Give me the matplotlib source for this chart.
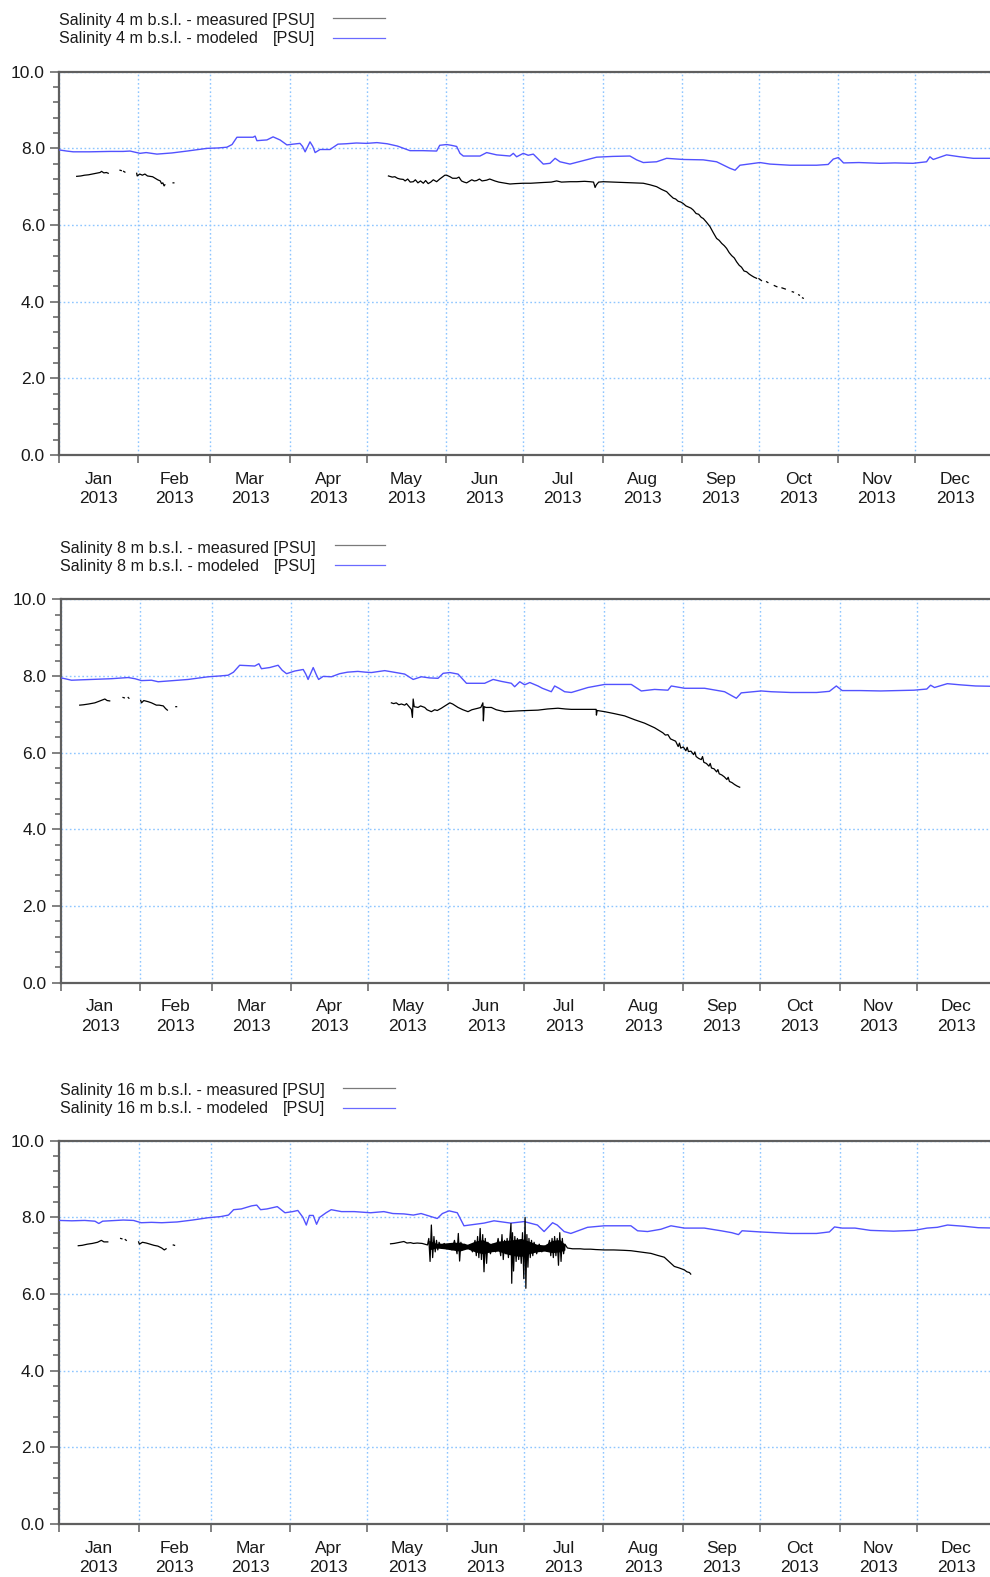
import numpy as np
import matplotlib
matplotlib.use("Agg")
import matplotlib.pyplot as plt
from matplotlib.lines import Line2D
from matplotlib.ticker import MultipleLocator, FixedLocator, NullFormatter, FormatStrFormatter

plt.rcParams['font.family'] = ['Liberation Sans', 'DejaVu Sans']

nan = np.nan

# ---- calendar axis (day of year 2013) ----
month_starts = [0, 31, 59, 90, 120, 151, 181, 212, 243, 273, 304, 334, 365]
month_names = ["Jan", "Feb", "Mar", "Apr", "May", "Jun",
               "Jul", "Aug", "Sep", "Oct", "Nov", "Dec"]
year_label = "2013"

# ---- salinity 4 m below sea level ----
day_meas_4m = [6.9, 8.5, 10, 11.5, 13, 14.5, 16, 16.6, 17.5, 18.5, 19.2, nan,
               23.8, 24.3, nan, 25.2, 25.7, nan,
               30.3, 30.5, 31.5, 32.5, 33.5, 34.5, 35.5, 36.5, 37.5, 38.5, 39.5, 40, 40.5, 41, 41.3, nan,
               44.5, 44.8, nan,
               128.5, 130, 131, 132, 133, 134.3, 135, 136, 137, 138.2, 139, 140, 141, 142.1, 143, 144,
               145, 146, 147.3, 148.5, 149.5, 150.5, 151.2, 152.5, 153.5, 155.1, 156, 157, 158, 159,
               160, 161, 162, 162.9, 164, 165, 166.8, 168, 170, 171.5, 173.3, 175.9, 178, 181, 184,
               186.3, 189, 192, 194.1, 196, 199.3, 202, 205, 207.1, 208.5, 209.1, 209.6, 210.5, 212.3,
               216, 220.1, 224, 227.9, 230.5, 233.1, 235, 237, 238.3, 239.6, 240.5, 241.5, 242.5, 243.5,
               244.5, 245.5, 246.5, 247.4, 248.5, 249.5, 250.5, 251.3, 252.6, 253.9, 255.2, 256.5,
               257.5, 258.5, 259.5, 260.4, 261.4, 262.4, 263.4, 264.3, 265.3, 266.2, 267.2, 268.2,
               269.2, 270.1, 271.1, 272.1, nan,
               273, 274, nan, 276, 276.5, nan, 279, 280, nan, 282, 283.3, nan, 286, 286.5, nan,
               288.5, 288.8, nan, 290.0, 290.3]
sal_meas_4m = [7.27, 7.28, 7.30, 7.31, 7.33, 7.35, 7.37, 7.40, 7.36, 7.37, 7.35, nan,
               7.43, 7.42, nan, 7.40, 7.38, nan,
               7.35, 7.28, 7.33, 7.30, 7.33, 7.28, 7.27, 7.26, 7.22, 7.18, 7.15, 7.08, 7.10, 7.02, 7.05, nan,
               7.10, 7.10, nan,
               7.28, 7.25, 7.26, 7.22, 7.20, 7.19, 7.15, 7.20, 7.12, 7.13, 7.18, 7.10, 7.15, 7.09, 7.16, 7.08,
               7.12, 7.18, 7.13, 7.20, 7.25, 7.30, 7.30, 7.26, 7.22, 7.22, 7.25, 7.15, 7.12, 7.10,
               7.14, 7.18, 7.15, 7.16, 7.20, 7.15, 7.17, 7.20, 7.15, 7.12, 7.10, 7.07, 7.08, 7.09, 7.09,
               7.10, 7.11, 7.12, 7.15, 7.12, 7.13, 7.13, 7.14, 7.13, 7.12, 6.98, 7.05, 7.12, 7.13,
               7.12, 7.11, 7.10, 7.09, 7.05, 7.00, 6.93, 6.87, 6.78, 6.70, 6.68, 6.62, 6.60, 6.56,
               6.50, 6.47, 6.44, 6.39, 6.30, 6.28, 6.20, 6.17, 6.07, 5.96, 5.80, 5.65,
               5.60, 5.52, 5.46, 5.39, 5.28, 5.20, 5.14, 5.04, 4.95, 4.90, 4.80, 4.78,
               4.72, 4.68, 4.64, 4.61, nan,
               4.60, 4.55, nan, 4.52, 4.50, nan, 4.42, 4.39, nan, 4.36, 4.33, nan, 4.26, 4.25, nan,
               4.18, 4.17, nan, 4.10, 4.09]
day_mod_4m = [0, 3, 5.5, 12, 20, 25, 27.7, 31.6, 34, 38.2, 44, 50, 57.7, 62, 65.5, 67.5, 69.4, 73,
              75.7, 76.5, 77.2, 79, 81.1, 83.5, 86.2, 88.9, 91.3, 94, 95, 96, 97.9, 99, 99.9, 101.8,
              105.7, 108.8, 112, 116, 120, 124, 128, 132, 136.9, 142, 147.3, 148.5, 151.2, 153, 155.1,
              156.4, 157.7, 164.2, 166.8, 170.7, 175.9, 177.2, 178.5, 181.1, 183, 185, 188.9, 191.5,
              193.5, 195.4, 199.3, 204.5, 209.7, 216, 222.7, 225.3, 227.9, 233.1, 237, 243.5, 251.3,
              256.5, 261.7, 263.7, 265.6, 273.4, 277.3, 285.1, 295.5, 300, 302, 304, 306, 312, 320.2,
              326, 333.1, 338.4, 339.7, 341, 346.2, 351.4, 356.6, 363.1, 365]
sal_mod_4m = [7.96, 7.93, 7.91, 7.91, 7.92, 7.92, 7.93, 7.87, 7.89, 7.85, 7.88, 7.93, 8.00, 8.01,
              8.03, 8.10, 8.29, 8.29, 8.29, 8.32, 8.20, 8.21, 8.22, 8.30, 8.22, 8.09, 8.11, 8.13, 8.05,
              7.91, 8.17, 8.05, 7.89, 7.97, 7.97, 8.11, 8.12, 8.14, 8.13, 8.15, 8.12, 8.06, 7.94, 7.94,
              7.93, 8.08, 8.10, 8.08, 8.05, 7.87, 7.80, 7.80, 7.89, 7.83, 7.80, 7.87, 7.78, 7.87, 7.82,
              7.85, 7.59, 7.61, 7.74, 7.65, 7.59, 7.68, 7.77, 7.79, 7.80, 7.70, 7.63, 7.65, 7.74, 7.71,
              7.70, 7.65, 7.48, 7.43, 7.56, 7.63, 7.59, 7.56, 7.56, 7.58, 7.72, 7.76, 7.62, 7.63, 7.61,
              7.62, 7.61, 7.65, 7.78, 7.71, 7.83, 7.78, 7.74, 7.74, 7.74]

# ---- salinity 8 m below sea level ----
day_meas_8m = [7.5, 9, 11, 13.4, 15, 17.3, 18.2, 19.2, nan, 24.4, 24.9, nan, 26.4, 26.7, nan,
               31.3, 31.6, 32.5, 34.2, 35.5, 37.4, 38.5, 40.1, 41, 41.7, nan, 45, 45.3, nan,
               129.1, 130, 131, 132, 133, 134.3, 135, 136, 136.9, 137.3, 137.6, 138, 139.5, 140.5,
               142.1, 143, 144.7, 146, 147, 148.6, 150, 151.9, 153, 155.1, 157, 159, 160.5, 162.9,
               164, 164.8, 165, 165.3, 166, 168.1, 170, 173.3, 176, 178.5, 182, 186.3, 190, 194.1,
               197, 199.3, 204, 209, 209.1, 209.4, 212.3, 216, 220.1, 224, 227.9, 231.8, 235, 236,
               237, 238, 239, 240, 241, 241.5, 242, 243, 244, 244.5, 245, 246, 247, 247.5, 248, 249,
               250, 250.5, 251, 252, 253, 253.5, 254, 255, 256, 256.5, 257, 258, 259, 260, 260.5,
               261, 262, 263, 264, 265]
sal_meas_8m = [7.24, 7.25, 7.27, 7.30, 7.34, 7.40, 7.36, 7.35, nan, 7.44, 7.43, nan, 7.44, 7.42, nan,
               7.36, 7.30, 7.36, 7.33, 7.30, 7.24, 7.24, 7.22, 7.15, 7.11, nan, 7.20, 7.20, nan,
               7.30, 7.28, 7.30, 7.25, 7.27, 7.24, 7.28, 7.20, 7.13, 6.92, 7.40, 7.20, 7.18, 7.22,
               7.18, 7.12, 7.07, 7.12, 7.10, 7.16, 7.22, 7.30, 7.27, 7.18, 7.12, 7.07, 7.12, 7.16,
               7.18, 7.30, 6.83, 7.20, 7.18, 7.18, 7.12, 7.07, 7.08, 7.09, 7.10, 7.11, 7.14, 7.16,
               7.14, 7.13, 7.13, 7.13, 6.98, 7.10, 7.07, 7.02, 6.96, 6.86, 6.77, 6.65, 6.52, 6.46,
               6.47, 6.36, 6.33, 6.30, 6.16, 6.25, 6.12, 6.15, 6.05, 6.14, 6.03, 6.04, 5.95, 6.02, 5.90, 5.85,
               5.82, 5.90, 5.75, 5.72, 5.65, 5.72, 5.60, 5.58, 5.50, 5.56, 5.45, 5.42, 5.37, 5.30, 5.36,
               5.25, 5.22, 5.17, 5.13, 5.10]
day_mod_8m = [0, 1, 4.3, 8, 12.1, 20, 26.4, 29, 31.6, 35.5, 38.1, 44, 49.8, 57.6, 62, 65.4, 67.5,
              69.9, 73, 75.8, 77.4, 78.4, 81.6, 84.9, 86.5, 88.2, 91.4, 94.7, 95.7, 96.6, 98.6, 99.7,
              100.7, 102.5, 105.7, 108.9, 112, 116, 119, 121.3, 126.5, 130, 134.3, 137.6, 140.8, 144,
              147.3, 149.3, 151.9, 155.1, 158.4, 165.5, 168.8, 172, 175.9, 177.2, 179.2, 181.1, 183.1,
              186.3, 188, 191.5, 192.8, 194.5, 196.7, 199.3, 205.8, 212.3, 222.7, 226.6, 231.8, 237,
              238.3, 243.5, 251.3, 259.1, 263.7, 265.6, 273.4, 277.3, 285, 295, 300, 302.7, 305, 312,
              320, 333, 338, 339.5, 341, 346, 351, 357, 365]
sal_mod_8m = [7.95, 7.94, 7.89, 7.90, 7.91, 7.93, 7.96, 7.93, 7.88, 7.89, 7.85, 7.88, 7.91, 7.98,
              8.00, 8.02, 8.10, 8.28, 8.27, 8.26, 8.32, 8.19, 8.22, 8.28, 8.15, 8.06, 8.13, 8.17, 8.05,
              7.91, 8.22, 8.05, 7.91, 7.99, 7.98, 8.06, 8.10, 8.12, 8.10, 8.09, 8.14, 8.10, 8.05, 7.91,
              7.98, 7.95, 7.94, 8.07, 8.09, 8.05, 7.81, 7.81, 7.91, 7.86, 7.81, 7.72, 7.85, 7.77, 7.83,
              7.74, 7.68, 7.59, 7.74, 7.68, 7.59, 7.57, 7.70, 7.78, 7.78, 7.61, 7.65, 7.63, 7.74, 7.68,
              7.68, 7.59, 7.42, 7.56, 7.61, 7.59, 7.57, 7.57, 7.60, 7.74, 7.62, 7.62, 7.61, 7.63, 7.66,
              7.76, 7.70, 7.80, 7.77, 7.74, 7.73]

# ---- salinity 16 m below sea level ----
day_meas_16m = [7.5, 9, 11, 13, 15, 16.5, 17.5, 19, nan, 24, 24.5, nan, 25.8, 26.2, nan,
                31, 31.3, 32.5, 34, 35.5, 37, 38.5, 40, 41, 41.7, nan, 44.5, 45, nan,
                129.1, 130.5, 132, 134.3, 135.5, 136.9, 138, 139.5, 141.4, 142.5, 143.5,
                144, 144.5, 145, 145.5, 146, 146.5, 147, 147.5, 148, 149, 150, 151, 152, 153, 154,
                155, 155.5, 156, 156.5, 157, 158, 159, 160, 161, 162, 162.5, 163, 163.5, 164, 164.5,
                165, 165.5, 166, 166.5, 167, 168, 169, 170, 171, 172, 172.5, 173, 173.5, 174, 174.5,
                175, 176, 176.3, 176.6, 177, 177.5, 178, 178.5, 179, 179.5, 180, 180.5, 181, 181.5,
                181.8, 182.2, 182.6, 183, 183.5, 184, 184.5, 185, 186, 187, 188, 189, 190, 191, 191.5,
                192, 192.5, 193, 193.5, 194, 194.5, 195, 195.5, 196, 196.5, 197,
                198, 200, 203, 204.5, 207, 209, 212.3, 216, 220, 222.7, 226, 230.5, 233, 235.7, 237.5,
                239.6, 241.5, 243.5, 244.5, 245.5, 246]
sal_meas_16m = [7.26, 7.27, 7.30, 7.32, 7.35, 7.40, 7.36, 7.36, nan, 7.45, 7.44, nan, 7.42, 7.40, nan,
                7.36, 7.30, 7.35, 7.33, 7.30, 7.27, 7.25, 7.20, 7.15, 7.18, nan, 7.28, 7.27, nan,
                7.31, 7.32, 7.34, 7.37, 7.33, 7.34, 7.32, 7.33, 7.32, 7.30, 7.28,
                7.45, 6.85, 7.80, 6.95, 7.50, 7.10, 7.40, 7.15, 7.35, 7.20, 7.32, 7.18, 7.30, 7.15, 7.40,
                7.05, 7.58, 6.86, 7.35, 7.15, 7.30, 7.18, 7.28, 7.10, 7.40, 7.00, 7.50, 6.95, 7.71, 6.90,
                7.55, 6.58, 7.45, 6.80, 7.35, 7.05, 7.30, 7.10, 7.45, 7.00, 7.55, 6.90, 7.40, 7.05, 7.45,
                6.95, 7.84, 6.28, 7.60, 6.60, 7.50, 6.85, 7.45, 6.90, 7.40, 6.80, 7.60, 6.40, 8.00,
                6.15, 7.55, 6.70, 7.45, 6.95, 7.40, 7.00, 7.35, 7.05, 7.30, 7.10, 7.25, 7.12, 7.40, 7.00,
                7.45, 6.95, 7.50, 7.00, 7.45, 6.75, 7.60, 6.85, 7.45, 7.05, 7.30,
                7.20, 7.18, 7.18, 7.17, 7.17, 7.16, 7.15, 7.15, 7.14, 7.13, 7.10, 7.06, 7.01, 6.96, 6.85,
                6.72, 6.68, 6.63, 6.58, 6.56, 6.52]
# dense core of the high-frequency fluctuations at 16 m (late May to mid July)
band_day_16m = [144, 147, 150, 153, 156, 159, 162, 165, 168, 171, 174, 177, 180, 183, 186, 189,
                192, 195, 197]
band_lo_16m = [7.15, 7.20, 7.18, 7.15, 7.12, 7.18, 7.10, 7.05, 7.10, 7.12, 7.05, 7.00, 6.98, 7.05,
               7.10, 7.12, 7.08, 7.10, 7.15]
band_hi_16m = [7.40, 7.32, 7.33, 7.35, 7.35, 7.30, 7.38, 7.42, 7.32, 7.38, 7.40, 7.42, 7.45, 7.38,
               7.30, 7.28, 7.40, 7.42, 7.30]
day_mod_16m = [0, 5, 10, 14, 15.5, 17, 25, 29, 32, 36, 40, 46, 52, 58, 63, 66, 68, 71, 75, 77, 78.5,
               81, 85, 88, 91, 93, 95, 96.3, 97.5, 99, 100.3, 101.5, 104, 106, 110, 115, 121.3, 126.5,
               130, 134.3, 138, 141, 147.3, 149.3, 151.9, 155.1, 157.7, 165.5, 169.4, 175.9, 181.1,
               186.3, 188.9, 192.2, 194, 196.7, 199.3, 205.8, 212.3, 222.7, 225.3, 229.2, 234.4, 238.3,
               243.5, 251.3, 257.8, 262, 264.6, 266, 273, 285, 295, 300, 302, 305, 310, 316, 325, 333,
               338, 342, 346, 352, 358, 365]
sal_mod_16m = [7.92, 7.91, 7.92, 7.90, 7.84, 7.90, 7.93, 7.92, 7.86, 7.87, 7.86, 7.88, 7.93, 7.99,
               8.02, 8.06, 8.20, 8.22, 8.30, 8.32, 8.20, 8.22, 8.28, 8.12, 8.15, 8.18, 8.00, 7.80, 8.05,
               8.05, 7.82, 8.00, 8.12, 8.20, 8.15, 8.15, 8.12, 8.15, 8.10, 8.09, 8.06, 8.10, 7.97, 8.10,
               8.17, 8.12, 7.78, 7.85, 7.91, 7.85, 7.89, 7.80, 7.63, 7.86, 7.80, 7.63, 7.58, 7.74, 7.78,
               7.78, 7.65, 7.63, 7.69, 7.78, 7.72, 7.72, 7.65, 7.60, 7.55, 7.65, 7.62, 7.58, 7.58, 7.62,
               7.75, 7.72, 7.72, 7.66, 7.64, 7.66, 7.72, 7.74, 7.80, 7.77, 7.73, 7.72]

W, H = 990, 1577
fig = plt.figure(figsize=(W / 100, H / 100), dpi=100)

SPINE = '#5f5f5f'
GRID = '#8ec6ff'
MEAS = '#000000'
MODEL = '#5252ff'
TEXT = '#1a1a1a'

# panel layout in pixels: left, top, bottom, px per day, legend text x, legend baseline, sample line x-range
panels = [
    dict(depth="4", meas=(day_meas_4m, sal_meas_4m), mod=(day_mod_4m, sal_mod_4m), band=None,
         left=59, top=71.7, bottom=455.0, ppd=2.5638, tx=59, base=25.0, lx=(333, 385)),
    dict(depth="8", meas=(day_meas_8m, sal_meas_8m), mod=(day_mod_8m, sal_mod_8m), band=None,
         left=60.5, top=599.3, bottom=982.8, ppd=2.563, tx=60.4, base=552.6, lx=(335, 385)),
    dict(depth="16", meas=(day_meas_16m, sal_meas_16m), mod=(day_mod_16m, sal_mod_16m),
         band=(band_day_16m, band_lo_16m, band_hi_16m),
         left=59, top=1140.7, bottom=1524.0, ppd=2.568, tx=60.4, base=1095.0, lx=(343, 395)),
]

mid_month = [(a + b) / 2 for a, b in zip(month_starts[:-1], month_starts[1:])]
month_labels = [f"{m}\n{year_label}" for m in month_names]

legend_rows = []
for p in panels:
    rect = [p['left'] / W, 1 - p['bottom'] / H, 365 * p['ppd'] / W, (p['bottom'] - p['top']) / H]
    ax = fig.add_axes(rect)
    ax.set_xlim(0, 365)
    ax.set_ylim(0, 10)
    ax.set_axisbelow(True)

    ax.spines['right'].set_visible(False)
    for s in ('left', 'bottom', 'top'):
        ax.spines[s].set_color(SPINE)
        ax.spines[s].set_linewidth(1.6)

    # x: ticks on month boundaries, labels centred in each month
    ax.xaxis.set_major_locator(FixedLocator(month_starts[:-1]))
    ax.xaxis.set_major_formatter(NullFormatter())
    ax.xaxis.set_minor_locator(FixedLocator(mid_month))
    ax.set_xticklabels(month_labels, minor=True)
    ax.tick_params(axis='x', which='major', length=5.8, width=1.1, color=SPINE, direction='out')
    ax.tick_params(axis='x', which='minor', length=0, pad=12, labelsize=12.5, labelcolor=TEXT)
    for lbl in ax.get_xticklabels(minor=True):
        lbl.set_linespacing(1.4)

    # y: labelled every 2.0, minor ticks every 0.4
    ax.yaxis.set_major_locator(MultipleLocator(2.0))
    ax.yaxis.set_minor_locator(MultipleLocator(0.4))
    ax.yaxis.set_major_formatter(FormatStrFormatter('%.1f'))
    ax.tick_params(axis='y', which='major', length=6.5, width=1.1, color=SPINE, pad=3.6,
                   labelsize=12.5, labelcolor=TEXT)
    ax.tick_params(axis='y', which='minor', length=4, width=1.1, color=SPINE)

    ax.grid(True, which='major', axis='both', color=GRID, linestyle=(0, (1.2, 1.8)), linewidth=1.0)

    md, mv = p['mod']
    ax.plot(md, mv, color=MODEL, lw=1.0, zorder=3)
    xd, xv = p['meas']
    ax.plot(xd, xv, color=MEAS, lw=0.9, zorder=4)
    if p['band'] is not None:
        bd, blo, bhi = p['band']
        ax.fill_between(bd, blo, bhi, color=MEAS, lw=0, zorder=4)

    # legend block above the panel
    b1 = 1 - p['base'] / H
    b2 = 1 - (p['base'] + 18.5) / H
    label = f"Salinity {p['depth']} m b.s.l."
    t1 = fig.text(p['tx'] / W, b1, f"{label} - measured [PSU]", fontsize=11.6,
                  color=TEXT, va='baseline', ha='left')
    fig.text(p['tx'] / W, b2, f"{label} - modeled", fontsize=11.6,
             color=TEXT, va='baseline', ha='left')
    legend_rows.append((t1, b2))
    y1 = 1 - (p['base'] - 7.5) / H
    y2 = 1 - (p['base'] + 18.5 - 6) / H
    fig.add_artist(Line2D([p['lx'][0] / W, p['lx'][1] / W], [y1, y1],
                          transform=fig.transFigure, color='#7a7a7a', lw=0.9))
    fig.add_artist(Line2D([p['lx'][0] / W, p['lx'][1] / W], [y2, y2],
                          transform=fig.transFigure, color='#6a6aff', lw=0.9))

# unit of the modeled row is right-aligned under the unit of the measured row
fig.canvas.draw()
renderer = fig.canvas.get_renderer()
for t1, b2 in legend_rows:
    bb = t1.get_window_extent(renderer)
    x_end = bb.x1 / W
    fig.text(x_end, b2, "[PSU]", fontsize=11.6, color=TEXT, va='baseline', ha='right')

fig.savefig("out.png", dpi=100)
